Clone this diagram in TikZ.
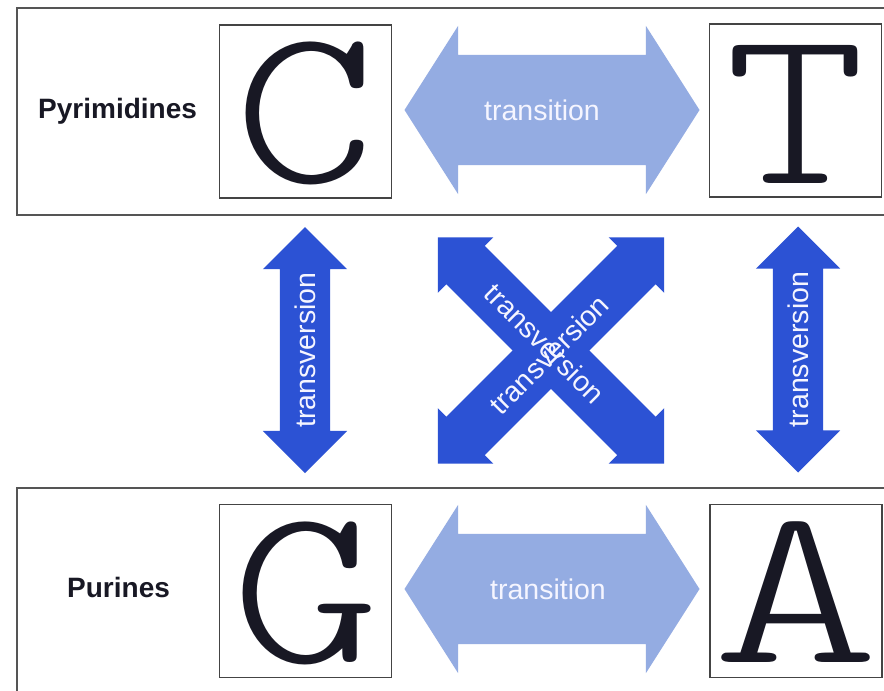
\documentclass[tikz,border=0pt]{standalone}
\usepackage{fontspec}
\newfontfamily\labelfont{Liberation Sans}
\newfontfamily\letterfont{lmmonolt10-regular.otf}
\usetikzlibrary{shapes.arrows}
\definecolor{transblue}{RGB}{148,172,226}
\definecolor{versblue}{RGB}{44,82,212}
\definecolor{framegray}{RGB}{85,85,85}
\definecolor{inkdark}{RGB}{24,24,36}
% #1 horizontal stretch, #2 downward nudge of the ink, #3 the letter
\newcommand{\baseletter}[3]{\raisebox{-#2}[\height][\depth]{\scalebox{#1}[1]{#3}}}

\begin{document}
\begin{tikzpicture}[x=1pt,y=-1pt,
  groupbox/.style={draw=framegray, line width=2pt},
  letterbox/.style={draw=framegray!80!black, line width=1.5pt,
    minimum width=172pt, minimum height=173pt, inner sep=0pt,
    text=inkdark, font=\fontsize{226pt}{226pt}\selectfont\letterfont},
  grouplabel/.style={font=\labelfont\bfseries\fontsize{28pt}{28pt}\selectfont,
    text=inkdark, anchor=base west, inner sep=0pt},
  transarrow/.style={double arrow, fill=transblue, draw=none,
    inner ysep=55pt, inner xsep=0pt, double arrow head extend=29pt,
    double arrow tip angle=115, minimum height=295pt},
  versarrow/.style={double arrow, fill=versblue, draw=none,
    inner ysep=25pt, inner xsep=0pt, double arrow head extend=17pt,
    double arrow tip angle=90, minimum height=246pt},
  crossarrow/.style={versarrow, inner ysep=27pt,
    double arrow head extend=12pt, minimum height=320pt},
  arrowtext/.style={font=\labelfont\fontsize{28.5pt}{28.5pt}\selectfont,
    text=white!96!blue, inner sep=0pt},
]
\useasboundingbox (0,0) rectangle (884,691);
\fill[white] (0,0) rectangle (884,691);
\clip (0,0) rectangle (884,691);

% group frames (they run on past the right and bottom edges)
\draw[groupbox] (17,8) rectangle (900,215);
\draw[groupbox] (17,488) rectangle (900,710);

% group names
\node[grouplabel] (pyr) at (38,118) {Pyrimidines};
\node[grouplabel] (pur) at (67,597) {Purines};

% the four bases
\node[letterbox] (C) at (305.5,111.5) {\baseletter{1.19}{1.5pt}{C}};
\node[letterbox] (T) at (795.5,110.5) {\baseletter{1.18}{4pt}{T}};
\node[letterbox] (G) at (305.5,591) {\baseletter{1.25}{2.5pt}{G}};
\node[letterbox] (A) at (796,591) {\baseletter{1.41}{1pt}{A}};

% transitions
\node[transarrow] (trTop) at (552,110) {};
\node[transarrow] (trBot) at (552,589) {};
\node[arrowtext] (trTopText) at ([xshift=-10pt]trTop.center) {transition};
\node[arrowtext] (trBotText) at ([xshift=-4pt]trBot.center) {transition};

% transversions
\node[versarrow, rotate=90] (tvL) at (305,350) {};
\node[versarrow, rotate=90] (tvR) at (798,349.5) {};
\node[crossarrow, rotate=-45] (xDown) at (551,350.5) {};
\node[crossarrow, rotate=45] (xUp) at (551,350.5) {};

\node[arrowtext, rotate=90] (tvLText) at (tvL.center) {transversion};
\node[arrowtext, rotate=90] (tvRText) at (tvR.center) {transversion};
\node[arrowtext, rotate=-45] (xDownText) at ([shift={(-6,-7)}]xDown.center) {transversion};
\node[arrowtext, rotate=45] (xUpText) at ([shift={(-2,4)}]xUp.center) {transversion};
\end{tikzpicture}
\end{document}
